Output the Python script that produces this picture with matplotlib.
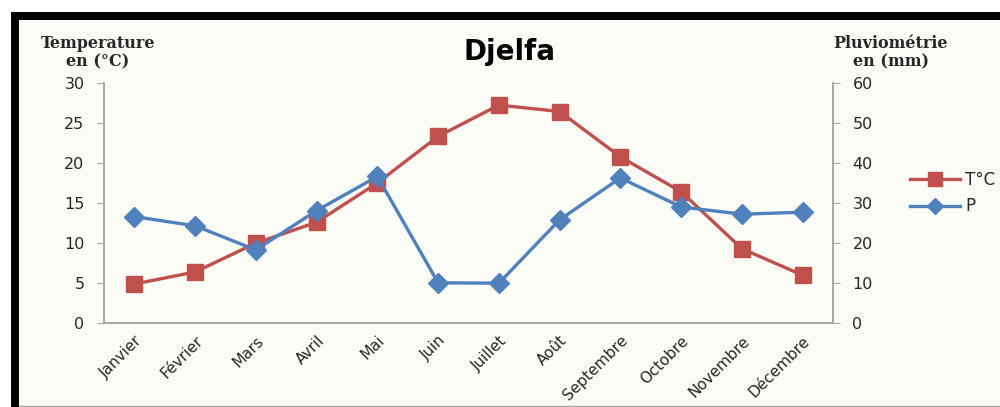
import matplotlib.pyplot as plt
from matplotlib.lines import Line2D
from matplotlib.patches import Rectangle

# Djelfa : températures et pluviométrie moyennes mensuelles
mois = ["Janvier", "Février", "Mars", "Avril", "Mai", "Juin", "Juillet",
        "Août", "Septembre", "Octobre", "Novembre", "Décembre"]
temp_c = [4.9, 6.4, 10.0, 12.6, 17.5, 23.3, 27.2, 26.4, 20.75, 16.4, 9.3, 6.0]
pluie_mm = [26.6, 24.3, 18.3, 28.1, 36.6, 10.1, 10.0, 25.8, 36.25, 29.0, 27.2, 27.7]

ROUGE = "#C0504D"
BLEU = "#4F81BD"
FOND = "#FCFCF6"
GRIS = "#A6A6A6"
TEXTE = "#262626"

fig = plt.figure(figsize=(10, 4.07), dpi=100)
fig.patch.set_facecolor("white")

# fond crème + cadre noir haut / gauche
fig.add_artist(Rectangle((0.011, 0.0), 0.989, 0.97, transform=fig.transFigure,
                         facecolor=FOND, edgecolor="none", zorder=-2))
fig.add_artist(Rectangle((0.011, 0.951), 0.989, 0.020, transform=fig.transFigure,
                         facecolor="black", edgecolor="none", zorder=-1))
fig.add_artist(Rectangle((0.011, 0.0), 0.008, 0.97, transform=fig.transFigure,
                         facecolor="black", edgecolor="none", zorder=-1))
fig.add_artist(Line2D([0.019, 1.0], [0.003, 0.003], transform=fig.transFigure,
                      color=GRIS, lw=1))

ax = fig.add_axes([0.104, 0.2056, 0.729, 0.5914])
ax2 = ax.twinx()

x = [i + 0.5 for i in range(len(mois))]
ax2.plot(x, pluie_mm, color=BLEU, lw=2.4, marker="D", ms=10, mec=BLEU, zorder=3)
ax.plot(x, temp_c, color=ROUGE, lw=2.4, marker="s", ms=12, mec=ROUGE, zorder=2)
ax.set_zorder(ax2.get_zorder() - 1)
ax.patch.set_visible(False)
ax2.patch.set_visible(False)

ax.set_xlim(0, 12)
ax.set_ylim(0, 30)
ax2.set_ylim(0, 60)
ax.set_yticks(range(0, 31, 5))
ax2.set_yticks(range(0, 61, 10))
ax.set_xticks(x)
ax.set_xticklabels(mois, rotation=45, ha="right", rotation_mode="anchor",
                   fontsize=11, color=TEXTE)
ax.tick_params(axis="x", length=0, pad=7)
ax.tick_params(axis="y", length=5, color=GRIS, labelsize=11.5, labelcolor=TEXTE, pad=9)
ax2.tick_params(axis="y", length=5, color=GRIS, labelsize=11.5, labelcolor=TEXTE, pad=9)

for a in (ax, ax2):
    a.spines["top"].set_visible(False)
    for s in ("left", "right", "bottom"):
        a.spines[s].set_color(GRIS)
        a.spines[s].set_linewidth(1.2)

fig.text(0.51, 0.872, "Djelfa", ha="center", va="center", fontsize=20,
         fontweight="bold", color="black")
fig.text(0.098, 0.87, "Temperature\nen (°C)", ha="center", va="center",
         fontsize=11.5, fontweight="bold", family="DejaVu Serif",
         linespacing=1.1, color=TEXTE)
fig.text(0.891, 0.87, "Pluviométrie\nen (mm)", ha="center", va="center",
         fontsize=11.5, fontweight="bold", family="DejaVu Serif",
         linespacing=1.1, color=TEXTE)

handles = [Line2D([], [], color=ROUGE, lw=2.4, marker="s", ms=10),
           Line2D([], [], color=BLEU, lw=2.4, marker="D", ms=8)]
fig.legend(handles, ["T°C", "P"], loc="center left", bbox_to_anchor=(0.895, 0.525),
           frameon=False, fontsize=12, handlelength=3.0, handletextpad=0.3,
           labelspacing=0.5, labelcolor=TEXTE)

fig.savefig("out.png", dpi=100)
